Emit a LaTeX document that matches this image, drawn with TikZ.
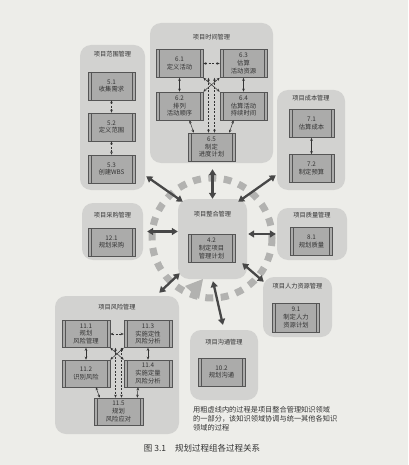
\documentclass[tikz,border=0pt]{standalone}
\usepackage{fontspec}
\newfontfamily\cjk{Noto Sans CJK SC}
\usetikzlibrary{arrows.meta,calc}
\definecolor{paper}{HTML}{EDEDE9}
\definecolor{grp}{HTML}{D2D2D0}
\definecolor{boxf}{HTML}{ABABAA}
\definecolor{boxd}{HTML}{555555}
\definecolor{ink}{HTML}{333333}
\definecolor{ring}{HTML}{B2B2B0}
\definecolor{bigar}{HTML}{474747}
\begin{document}
\begin{tikzpicture}[x=1pt,y=-1pt,
 group/.style={fill=grp, rounded corners=11pt, inner sep=0pt},
 gtitle/.style={font=\cjk\fontsize{6.2}{7}\selectfont, text=ink, inner sep=0pt},
 proc/.style={fill=boxf, draw=boxd, line width=0.6pt, inner sep=0pt, minimum width=47pt, minimum height=28pt, align=center, text=ink, font=\cjk\fontsize{6.3}{7.6}\selectfont,
   path picture={\draw[boxd,line width=0.5pt] ([xshift=3pt]path picture bounding box.north west) -- ([xshift=3pt]path picture bounding box.south west); \draw[boxd,line width=0.5pt] ([xshift=-3pt]path picture bounding box.north east) -- ([xshift=-3pt]path picture bounding box.south east);}},
 link/.style={draw=ink, line width=0.5pt, {Stealth[length=3pt,width=2.6pt]}-{Stealth[length=3pt,width=2.6pt]}},
 dlink/.style={link, dash pattern=on 2pt off 1.5pt},
 spoke/.style={draw=bigar, line width=2.3pt, {Triangle[length=6pt,width=7pt]}-{Triangle[length=6pt,width=7pt]}},
 note/.style={font=\cjk\fontsize{7.2}{9}\selectfont, text=ink, inner sep=0pt, align=left},
]
\useasboundingbox (0,0) rectangle (408,465);
\fill[paper] (0,0) rectangle (408,465);

% ring behind the integration group
\draw[ring, line width=7pt, dash pattern=on 8pt off 7.5pt] (212,238) circle[radius=60];
\fill[ring] (185,286) -- (203,279) -- (199,299) -- cycle;

% groups
\node[group, minimum width=65pt, minimum height=145pt] (sg) at (112.5,117.5) {};
\node[group, minimum width=123pt, minimum height=140pt] (tg) at (211.5,93) {};
\node[group, minimum width=68pt, minimum height=100pt] (cpg) at (311,140) {};
\node[group, minimum width=61pt, minimum height=57pt] (pg) at (112.5,231.5) {};
\node[group, minimum width=69pt, minimum height=80pt] (cg) at (212.5,239) {};
\node[group, minimum width=70pt, minimum height=52pt] (qg) at (312,234) {};
\node[group, minimum width=69pt, minimum height=60pt] (hg) at (297.5,307) {};
\node[group, minimum width=124pt, minimum height=138pt] (rg) at (117,365) {};
\node[group, minimum width=68pt, minimum height=70pt] (cmg) at (224,365) {};

% titles
\node[gtitle] (sgT) at (112.5,54) {项目范围管理};
\node[gtitle] (tgT) at (211.5,37) {项目时间管理};
\node[gtitle] (cpgT) at (311,98) {项目成本管理};
\node[gtitle] (pgT) at (112.5,215) {项目采购管理};
\node[gtitle] (cgT) at (212.5,214) {项目整合管理};
\node[gtitle] (qgT) at (312,215) {项目质量管理};
\node[gtitle] (hgT) at (297.5,286) {项目人力资源管理};
\node[gtitle] (rgT) at (117,307) {项目风险管理};
\node[gtitle] (cmgT) at (224,342) {项目沟通管理};

% scope
\node[proc] (s51) at (111.5,86) {5.1\\收集需求};
\node[proc] (s52) at (111.5,127) {5.2\\定义范围};
\node[proc] (s53) at (111.5,169) {5.3\\创建WBS};
\draw[dlink] (s51) -- (s52);
\draw[dlink] (s52) -- (s53);

% time
\node[proc] (t61) at (179.5,63.5) {6.1\\定义活动};
\node[proc] (t63) at (243.5,63.5) {6.3\\估算\\活动资源};
\node[proc] (t62) at (179.5,106) {6.2\\排列\\活动顺序};
\node[proc] (t64) at (243.5,106) {6.4\\估算活动\\持续时间};
\node[proc] (t65) at (211.5,147) {6.5\\制定\\进度计划};
\draw[link] (t61) -- (t62);
\draw[link] (t63) -- (t64);
\draw[dlink] (t61) -- (t63);
\draw[link] (t61.south east) -- (t64.north west);
\draw[link] (t63.south west) -- (t62.north east);
\draw[dlink] ($(t65.north |- t61.south)+(-3,0)$) -- ($(t65.north)+(-3,0)$);
\draw[dlink] ($(t65.north |- t63.south)+(3,0)$) -- ($(t65.north)+(3,0)$);
\draw[link] ($(t62.south)+(10,0)$) -- ($(t65.north west)+(6,0)$);
\draw[link] ($(t64.south)+(-10,0)$) -- ($(t65.north east)+(-6,0)$);

% cost
\node[proc, minimum width=45pt] (c71) at (311.5,123.5) {7.1\\估算成本};
\node[proc, minimum width=45pt] (c72) at (311.5,168.5) {7.2\\制定预算};
\draw[link] (c71) -- (c72);

% procurement, integration, quality, HR, communications
\node[proc] (p121) at (111.5,242) {12.1\\规划采购};
\node[proc] (i42) at (211.5,248.5) {4.2\\制定项目\\管理计划};
\node[proc, minimum width=42pt] (q81) at (311.5,241.5) {8.1\\规划质量};
\node[proc, minimum height=29pt] (h91) at (296,317.5) {9.1\\制定人力\\资源计划};
\node[proc] (m102) at (221.5,372) {10.2\\规划沟通};

% risk
\node[proc, minimum width=48pt, minimum height=27pt] (r111) at (86,334) {11.1\\规划\\风险管理};
\node[proc, minimum width=48pt, minimum height=27pt] (r113) at (148,334) {11.3\\实施定性\\风险分析};
\node[proc, minimum width=48pt, minimum height=27pt] (r112) at (86,373.5) {11.2\\识别风险};
\node[proc, minimum width=48pt, minimum height=27pt] (r114) at (148,373.5) {11.4\\实施定量\\风险分析};
\node[proc, minimum width=49pt, minimum height=27pt] (r115) at (118.5,411.5) {11.5\\规划\\风险应对};
\draw[link] (r111) -- (r112);
\draw[link] (r113) -- (r114);
\draw[dlink] (r111) -- (r113);
\draw[link] (r111.south east) -- (r114.north west);
\draw[link] (r113.south west) -- (r112.north east);
\draw[dlink] ($(r115.north |- r111.south)+(-3,0)$) -- ($(r115.north)+(-3,0)$);
\draw[dlink] ($(r115.north |- r113.south)+(3,0)$) -- ($(r115.north)+(3,0)$);
\draw[link] ($(r112.south)+(10,0)$) -- ($(r115.north west)+(6,0)$);
\draw[link] ($(r114.south)+(-10,0)$) -- ($(r115.north east)+(-6,0)$);

% spokes
\draw[spoke, shorten >=6pt] (cg.north) -- (cg.north |- tg.south);
\draw[spoke] ($(cg.north west)+(5,3)$) -- ($(sg.south east)+(1,-14)$);
\draw[spoke] ($(cg.north east)+(-9,3)$) -- ($(cpg.south west)+(-1,-15)$);
\draw[spoke, shorten >=4pt] (cg.west |- pg.east) -- (pg.east);
\draw[spoke, shorten <=1pt, shorten >=1pt] (cg.east |- qg.west) -- (qg.west);
\draw[spoke] ($(cg.south east)+(-5,-16)$) -- ($(hg.north west)+(1,5)$);
\draw[spoke] ($(cg.south west)+(2,-6)$) -- ($(rg.north east)+(-20,-3)$);
\draw[spoke, shorten <=2pt, shorten >=5pt] (cg.south) -- (cmg.north);

% note and caption
\node[note, anchor=north west] (nt) at (193,406) {用粗虚线内的过程是项目整合管理知识领域\\的一部分，该知识领域协调与统一其他各知识\\领域的过程};
\node[font=\cjk\fontsize{8.5}{10}\selectfont, text=ink, inner sep=0pt] (cap) at (202,448) {图 3.1\hspace{9pt}规划过程组各过程关系};
\end{tikzpicture}
\end{document}
